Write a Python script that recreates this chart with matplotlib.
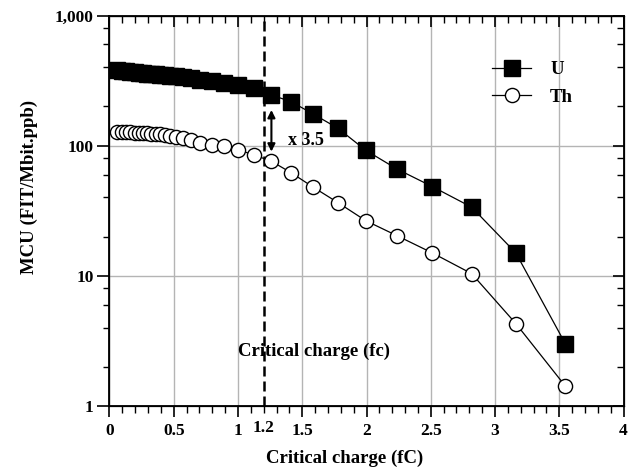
import matplotlib.pyplot as plt
import numpy as np
from matplotlib.ticker import LogLocator, FixedLocator, MultipleLocator, NullFormatter

plt.rcParams['font.family'] = ['Liberation Serif', 'DejaVu Serif']
plt.rcParams['font.weight'] = 'bold'

# carga critica (fC)
carga = [0.06, 0.095, 0.13, 0.163, 0.195, 0.226, 0.259, 0.29, 0.324, 0.358,
         0.394, 0.433, 0.474, 0.519, 0.57, 0.631, 0.708, 0.794, 0.891, 1.0,
         1.122, 1.259, 1.413, 1.585, 1.778, 1.995, 2.239, 2.512, 2.818, 3.162,
         3.548]
# MCU para uranio y torio (FIT/Mbit.ppb)
mcu_u = [380, 376, 372, 368, 365, 362, 360, 357, 355, 353,
         350, 347, 344, 340, 336, 330, 322, 312, 305, 292,
         278, 245, 218, 175, 136, 92, 66, 48.5, 33.7, 15,
         3.0]
mcu_th = [128, 128, 127, 127, 126, 126, 125, 125, 124, 123,
          122, 121, 119, 117, 114, 110, 104, 101, 99, 93,
          85, 76, 62, 48, 36.5, 26.5, 20.3, 15, 10.4, 4.3,
          1.42]

xticks = [0, 0.5, 1, 1.5, 2, 2.5, 3, 3.5, 4]
xticklabels = ['0', '0.5', '1', '1.5', '2', '2.5', '3', '3.5', '4']
yticks = [1, 10, 100, 1000]
yticklabels = ['1', '10', '100', '1,000']

fig = plt.figure(figsize=(6.37, 4.70), dpi=100)
ax = fig.add_axes([109.5 / 637, 1 - 406 / 470, 514 / 637, 390.5 / 470])
ax.set_yscale('log')
ax.set_xlim(0, 4)
ax.set_ylim(1, 1000)

ax.set_xticks(xticks)
ax.set_xticklabels(xticklabels, fontsize=12.5, fontweight='bold')
ax.xaxis.set_minor_locator(MultipleLocator(0.1))
ax.set_yticks(yticks)
ax.set_yticklabels(yticklabels, fontsize=12.5, fontweight='bold')
ax.yaxis.set_minor_locator(LogLocator(base=10, subs=(2, 4, 6, 8)))
ax.yaxis.set_minor_formatter(NullFormatter())
ax.tick_params(axis='x', which='major', direction='out', length=8, width=1.2, pad=4)
ax.tick_params(axis='x', which='minor', direction='out', length=5, width=1.0)
ax.tick_params(axis='y', which='major', direction='out', length=8.5, width=1.2, pad=3)
ax.tick_params(axis='y', which='minor', direction='out', length=4.5, width=1.0)
ax.grid(True, which='major', color='#b4b4b4', lw=1.0)
ax.set_axisbelow(True)
for s in ax.spines.values():
    s.set_linewidth(1.3)

# ejes de arriba y derecha con marcas hacia dentro
arriba = ax.twiny()
arriba.set_xlim(0, 4)
arriba.set_xticks(xticks)
arriba.xaxis.set_minor_locator(MultipleLocator(0.1))
arriba.tick_params(axis='x', which='major', direction='in', length=8, width=1.2, labeltop=False)
arriba.tick_params(axis='x', which='minor', direction='in', length=5, width=1.0)
derecha = ax.twinx()
derecha.set_yscale('log')
derecha.set_ylim(1, 1000)
derecha.set_yticks(yticks)
derecha.yaxis.set_minor_locator(LogLocator(base=10, subs=(2, 4, 6, 8)))
derecha.yaxis.set_minor_formatter(NullFormatter())
derecha.tick_params(axis='y', which='major', direction='in', length=8, width=1.2, labelright=False)
derecha.tick_params(axis='y', which='minor', direction='in', length=5, width=1.0)

ax.plot(carga, mcu_u, '-s', color='k', lw=0.9, ms=11, mfc='k', mec='k', label='U', zorder=3)
ax.plot(carga, mcu_th, '-o', color='k', lw=0.9, ms=10.2, mfc='white', mec='k', mew=1.0,
        label='Th', zorder=3)

ax.axvline(1.2, ymin=0, ymax=0.988, color='k', lw=1.8, ls=(0, (4, 2)), zorder=2)
ax.annotate('', xy=(1.26, 90), xytext=(1.26, 188),
            arrowprops=dict(arrowstyle='<|-|>', color='k', lw=1.5,
                            shrinkA=0, shrinkB=0, mutation_scale=11))
ax.text(1.39, 110, 'x 3.5', fontsize=13, fontweight='bold', ha='left', va='center')
ax.text(1.59, 2.61, 'Critical charge (fc)', fontsize=13.5, fontweight='bold',
        ha='center', va='center')
ax.text(1.2, -(428 - 406) / 390.5, '1.2', transform=ax.get_xaxis_transform(),
        fontsize=12.5, fontweight='bold', ha='center', va='center')

ax.legend(loc='upper left', bbox_to_anchor=(0.744, 0.8835), frameon=False,
          borderpad=0, borderaxespad=0, handlelength=2.1, handletextpad=1.0,
          labelspacing=0.55, prop={'size': 13.5, 'weight': 'bold'})

fig.text(344.5 / 637, 1 - 458 / 470, 'Critical charge (fC)', fontsize=13.5,
         fontweight='bold', ha='center', va='center')
fig.text(29 / 637, 1 - 187 / 470, 'MCU (FIT/Mbit.ppb)', fontsize=13.5,
         fontweight='bold', ha='center', va='center', rotation=90)

fig.savefig('out.png', dpi=100)
